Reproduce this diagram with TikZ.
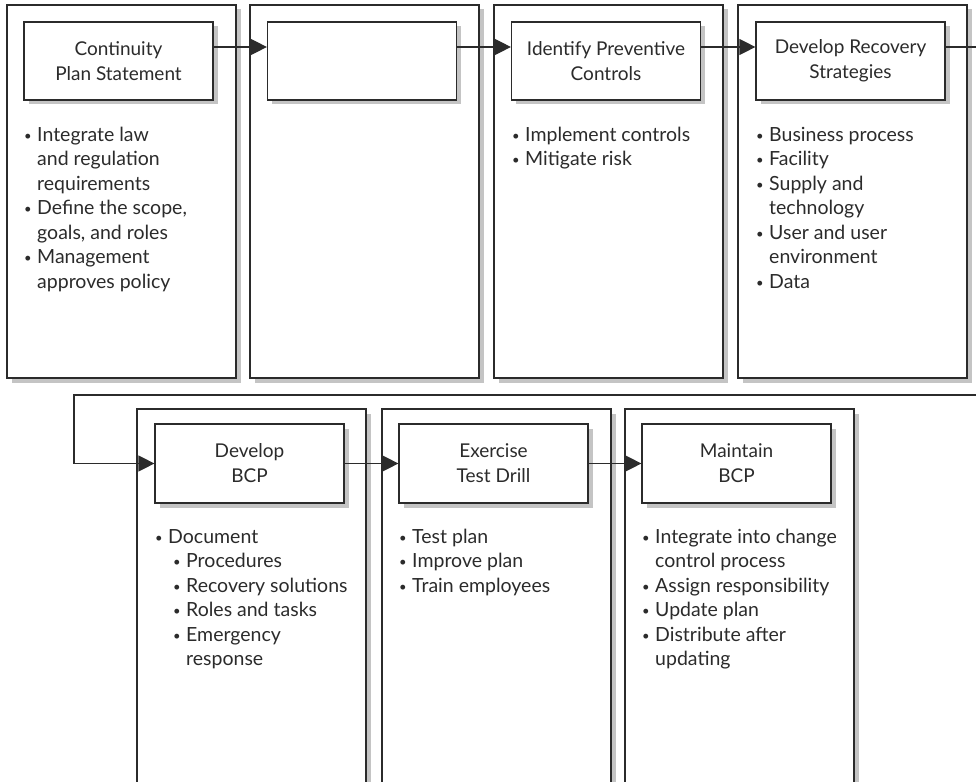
\documentclass[tikz,border=0pt]{standalone}
\usepackage{fontspec}
\setmainfont{Lato}
\usetikzlibrary{arrows.meta}
\definecolor{ink}{HTML}{2B2B2B}
\definecolor{shade}{HTML}{C4C4C4}
\newcommand{\bul}{\makebox[13pt][l]{\fontsize{13}{13}\selectfont\raisebox{0.8pt}{•}}}
\newcommand{\ind}{\hspace*{13pt}}
\newcommand{\sub}{\hspace*{18pt}}
\begin{document}
\begin{tikzpicture}[x=1pt,y=-1pt,
  shadowed/.style={preaction={fill=shade, transform canvas={shift={(4.5pt,-4.5pt)}}}},
  panel/.style={shadowed, draw=ink, line width=1.2pt, fill=white, inner sep=0pt, minimum width=229pt},
  titlebox/.style={shadowed, draw=ink, line width=1.2pt, fill=white, inner sep=0pt,
    minimum width=189pt, align=center, font=\fontsize{19}{25}\selectfont, text=ink},
  listbox/.style={anchor=north west, inner sep=0pt, align=left,
    font=\fontsize{19.5}{24.5}\selectfont, text=ink},
  arr/.style={draw=ink, line width=1.2pt, -{Triangle[length=16pt,width=16pt]}},
  conn/.style={draw=ink, line width=1.2pt}]
\useasboundingbox (0,0) rectangle (976,781);
\clip (0,0) rectangle (976,781);
% outer panels, top row
\node[panel, minimum height=373pt] (p1) at (121.5,191.5) {};
\node[panel, minimum height=373pt] (p2) at (364.5,191.5) {};
\node[panel, minimum height=373pt] (p3) at (608.5,191.5) {};
\node[panel, minimum height=373pt] (p4) at (852.5,191.5) {};
% outer panels, bottom row
\node[panel, minimum height=391pt] (p5) at (251.5,604.5) {};
\node[panel, minimum height=391pt] (p6) at (496.5,604.5) {};
\node[panel, minimum height=391pt] (p7) at (739.5,604.5) {};
% title boxes
\node[titlebox, minimum height=78pt] (t1) at (118.5,61) {Continuity\\Plan Statement};
\node[titlebox, minimum height=78pt] (t2) at (362,61) {};
\node[titlebox, minimum height=78pt] (t3) at (606,61) {Identify Preventive\\Controls};
\node[titlebox, minimum height=78pt] (t4) at (850.5,61) {Develop Recovery\\Strategies};
\node[titlebox, minimum height=79pt] (t5) at (249.5,463.5) {Develop\\BCP};
\node[titlebox, minimum height=79pt] (t6) at (493.5,463.5) {Exercise\\Test Drill};
\node[titlebox, minimum height=79pt] (t7) at (736.5,463.5) {Maintain\\BCP};
% lists
\node[listbox] (l1) at (24,123.8) {\strut\bul Integrate law\\\ind and regulation\\\ind requirements\\\bul Define the scope,\\\ind goals, and roles\\\bul Management\\\ind approves policy};
\node[listbox] (l3) at (512,123.8) {\strut\bul Implement controls\\\bul Mitigate risk};
\node[listbox] (l4) at (756,123.8) {\strut\bul Business process\\\bul Facility\\\bul Supply and\\\ind technology\\\bul User and user\\\ind environment\\\bul Data};
\node[listbox] (l5) at (155,525.8) {\strut\bul Document\\\sub\bul Procedures\\\sub\bul Recovery solutions\\\sub\bul Roles and tasks\\\sub\bul Emergency\\\sub\ind response};
\node[listbox] (l6) at (399,525.8) {\strut\bul Test plan\\\bul Improve plan\\\bul Train employees};
\node[listbox] (l7) at (642,525.8) {\strut\bul Integrate into change\\\ind control process\\\bul Assign responsibility\\\bul Update plan\\\bul Distribute after\\\ind updating};
% connectors
\coordinate (x1) at (976,47);
\coordinate (x2) at (976,395);
\coordinate (c1) at (74,395);
\draw[arr] ([yshift=14pt]t1.east) -- ([yshift=14pt]t2.west);
\draw[arr] ([yshift=14pt]t2.east) -- ([yshift=14pt]t3.west);
\draw[arr] ([yshift=14pt]t3.east) -- ([yshift=14pt]t4.west);
\draw[conn] ([yshift=14pt]t4.east) -- (x1);
\draw[arr] (x2) -- (c1) |- (t5.west);
\draw[arr] (t5.east) -- (t6.west);
\draw[arr] (t6.east) -- (t7.west);
\end{tikzpicture}
\end{document}
